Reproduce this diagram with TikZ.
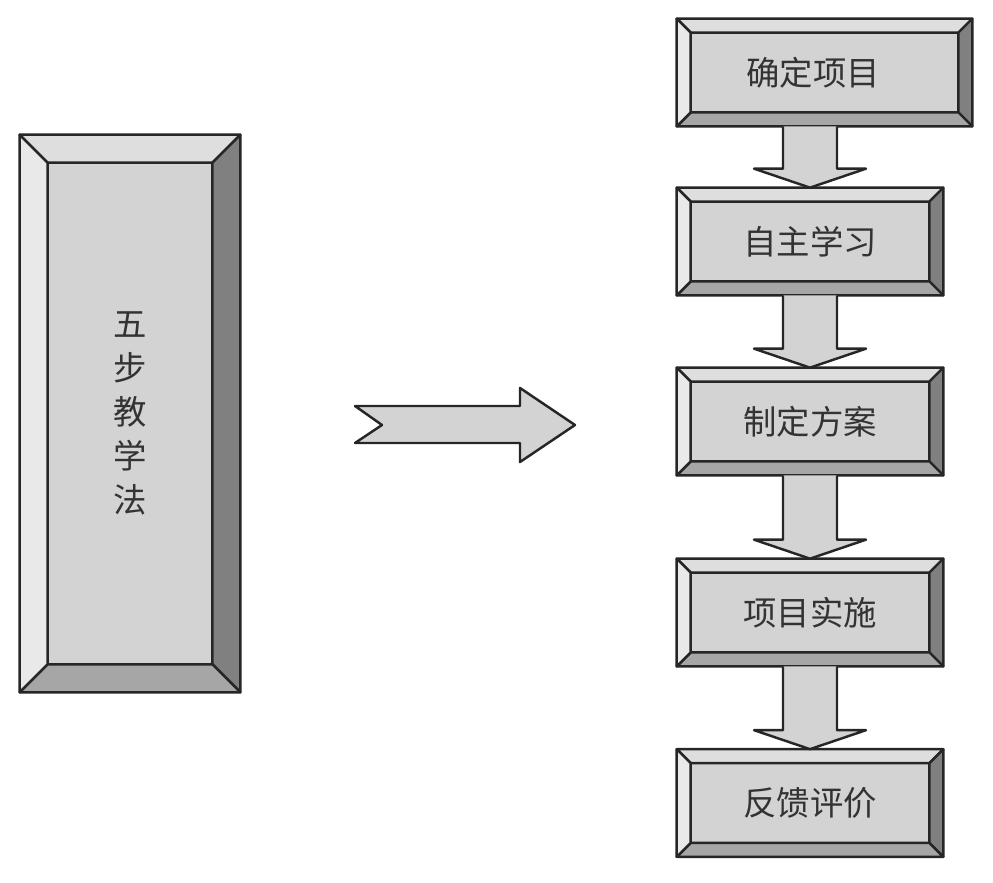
\documentclass[tikz,border=0pt]{standalone}
\usepackage{fontspec}
\setmainfont{Noto Sans CJK SC}
\usetikzlibrary{calc}
\definecolor{faceGray}{HTML}{D3D3D3}
\definecolor{topGray}{HTML}{DEDEDE}
\definecolor{leftGray}{HTML}{E9E9E9}
\definecolor{rightGray}{HTML}{808080}
\definecolor{bottomGray}{HTML}{A6A6A6}
\tikzset{
	bevelface/.style={fill=faceGray, inner sep=0pt, text=black!80, font=\fontsize{19}{25}\selectfont},
	bevelline/.style={line width=1.4pt, line join=round, draw=black!85},
	blockarrow/.style={bevelline, fill=faceGray},
}
% bevel frame round a named node (y grows downwards)
\def\bevel(#1)(#2){
	\path (#1.north west) coordinate (#1-a) (#1.north east) coordinate (#1-b)
		(#1.south east) coordinate (#1-c) (#1.south west) coordinate (#1-d);
	\path ($(#1-a)+(#2,#2)$) coordinate (#1-e) ($(#1-b)+(-#2,#2)$) coordinate (#1-f)
		($(#1-c)+(-#2,-#2)$) coordinate (#1-g) ($(#1-d)+(#2,-#2)$) coordinate (#1-h);
	\draw[bevelline, fill=topGray] (#1-a) -- (#1-b) -- (#1-f) -- (#1-e) -- cycle;
	\draw[bevelline, fill=rightGray] (#1-b) -- (#1-c) -- (#1-g) -- (#1-f) -- cycle;
	\draw[bevelline, fill=bottomGray] (#1-c) -- (#1-d) -- (#1-h) -- (#1-g) -- cycle;
	\draw[bevelline, fill=leftGray] (#1-d) -- (#1-a) -- (#1-e) -- (#1-h) -- cycle;
}
\def\blockdown(#1)(#2){\draw[blockarrow] ($(#1.south -| #2.north)+(-27,0)$) -- ($(#2.north)+(-27,-19)$) -- ($(#2.north)+(-56,-19)$) -- (#2.north) -- ($(#2.north)+(56,-19)$) -- ($(#2.north)+(27,-19)$) -- ($(#1.south -| #2.north)+(27,0)$);}

\begin{document}
\begin{tikzpicture}[x=0.02cm, y=-0.02cm]
			%%%%% START %%%%%
			\useasboundingbox (0, 0) rectangle (993, 882);
			
			\node[bevelface, minimum width=4.4cm, minimum height=11.14cm, align=center] (method) at (130, 413.5) {五\\步\\教\\学\\法};
			\bevel(method)(28);
			
			\draw[blockarrow] (355, 406) -- (520, 406) -- (520, 388) -- (575, 425) -- (520, 462) -- (520, 443) -- (355, 443) -- (382, 425) -- cycle;
			
			\node[bevelface, minimum width=5.9cm, minimum height=2.14cm] (p1) at (824.5, 72.5) {\hspace*{-0.46cm}确定项目};
			\bevel(p1)(14);
			\node[bevelface, minimum width=5.32cm, minimum height=2.14cm] (p2) at (810, 241.5) {自主学习};
			\bevel(p2)(14);
			\node[bevelface, minimum width=5.32cm, minimum height=2.14cm] (p3) at (810, 421.5) {制定方案};
			\bevel(p3)(14);
			\node[bevelface, minimum width=5.32cm, minimum height=2.14cm] (p4) at (810, 612.5) {项目实施};
			\bevel(p4)(14);
			\node[bevelface, minimum width=5.32cm, minimum height=2.14cm] (p5) at (810, 803) {反馈评价};
			\bevel(p5)(14);
			
			\blockdown(p1)(p2);
			\blockdown(p2)(p3);
			\blockdown(p3)(p4);
			\blockdown(p4)(p5);
			
			%%%%% END %%%%%
		\end{tikzpicture}
\end{document}
